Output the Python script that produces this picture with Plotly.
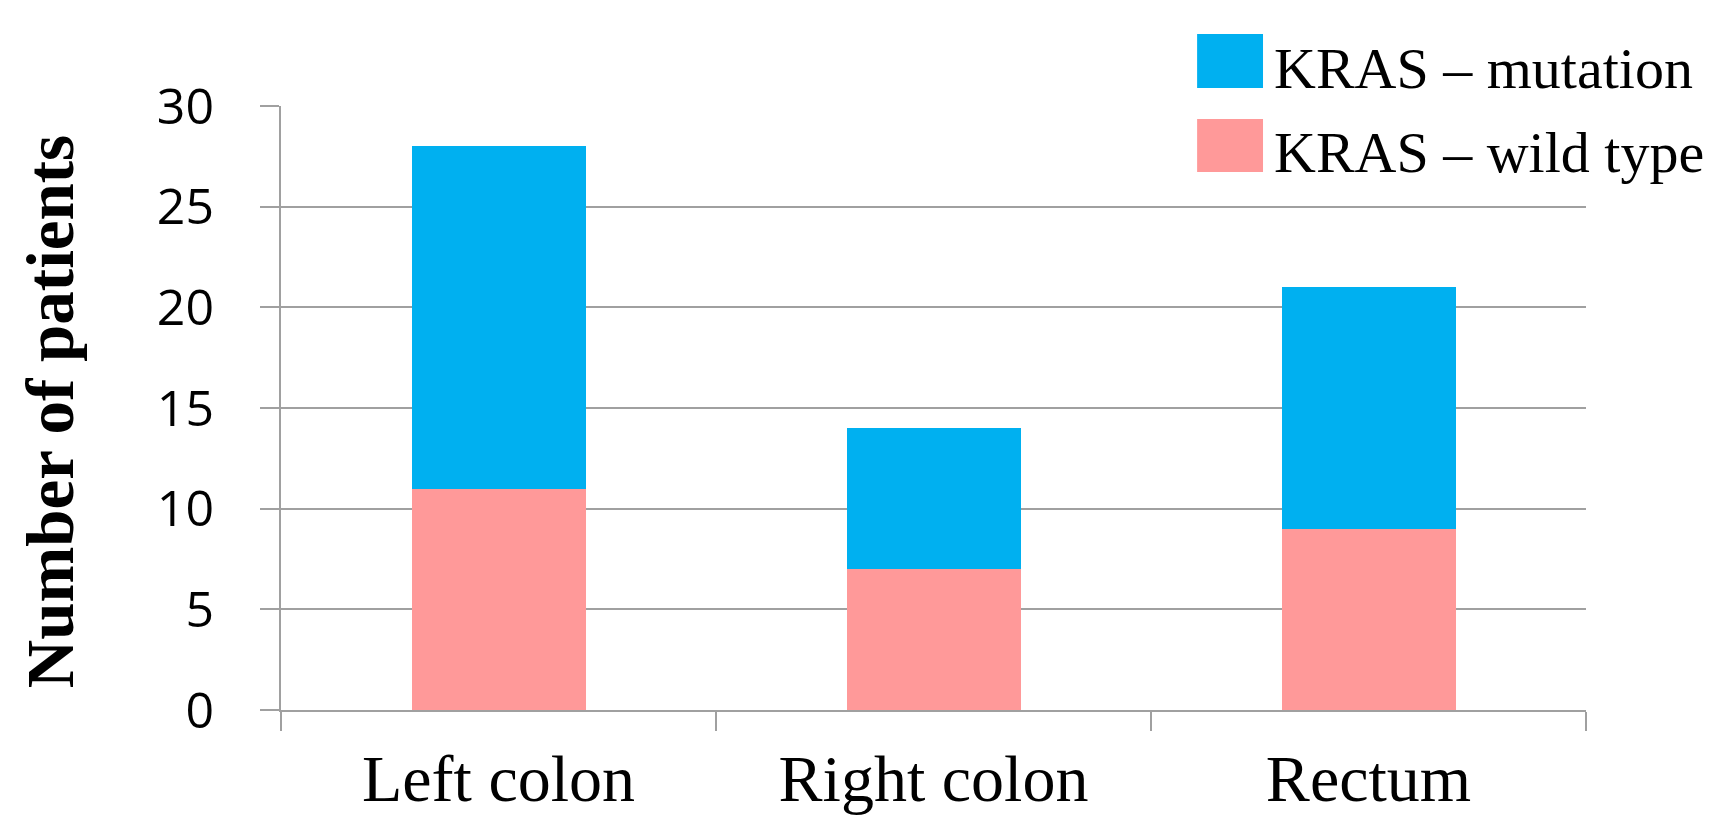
import plotly.graph_objects as go

# Patient counts by tumour site, split by KRAS status
sites = ["Left colon", "Right colon", "Rectum"]
kras_wild_type = [11, 7, 9]
kras_mutation = [17, 7, 12]

y_ticks = [0, 5, 10, 15, 20, 25, 30]

series_names = ["KRAS \u2013 mutation", "KRAS \u2013 wild type"]
color_mutation = "#00B0F0"
color_wild = "#FF9999"
grid_color = "#A0A0A0"

fig = go.Figure()
fig.add_trace(go.Bar(x=sites, y=kras_wild_type, name=series_names[1],
                     marker=dict(color=color_wild, line=dict(width=0)),
                     width=0.4, showlegend=False))
fig.add_trace(go.Bar(x=sites, y=kras_mutation, name=series_names[0],
                     marker=dict(color=color_mutation, line=dict(width=0)),
                     width=0.4, showlegend=False))

W, H = 1719, 818
ml, mr, mt, mb = 281, 133, 106, 108

fig.update_layout(
    width=W, height=H,
    barmode="stack",
    plot_bgcolor="white", paper_bgcolor="white",
    margin=dict(l=ml, r=mr, t=mt, b=mb, autoexpand=False),
    xaxis=dict(
        type="category",
        showline=True, linecolor=grid_color, linewidth=2,
        ticks="outside", tickson="boundaries", ticklen=19, tickwidth=1.5,
        tickcolor=grid_color,
        tickfont=dict(family="Liberation Serif", size=66, color="black"),
        ticklabelstandoff=10,
        showgrid=False,
    ),
    yaxis=dict(
        range=[0, 30], tickvals=y_ticks,
        showline=True, linecolor=grid_color, linewidth=2,
        ticks="outside", ticklen=19, tickwidth=1.5, tickcolor=grid_color,
        showgrid=True, gridcolor=grid_color, gridwidth=2,
        zeroline=False,
        tickfont=dict(family="Open Sans", size=50, color="black"),
        ticklabelstandoff=36,
    ),
    bargap=0.6,
)

# Y-axis title
fig.add_annotation(
    text="<b>Number of patients</b>", textangle=-90,
    xref="paper", yref="paper", x=-0.177, y=0.493,
    xanchor="center", yanchor="middle", showarrow=False,
    font=dict(family="Liberation Serif", size=67, color="black"),
)

# Legend drawn with shapes and text, on a white panel over the top gridline
fig.add_shape(type="rect", xref="paper", yref="paper",
              x0=0.7287, x1=1.0, y0=0.97, y1=1.17,
              fillcolor="white", line=dict(width=0), layer="above")
legend_rows = [
    (series_names[0], color_mutation, 1.0298, 1.119),
    (series_names[1], color_wild, 0.8907, 0.9785),
]
for label, color, y0, y1 in legend_rows:
    fig.add_shape(type="rect", xref="paper", yref="paper",
                  x0=0.702, x1=0.7525, y0=y0, y1=y1,
                  fillcolor=color, line=dict(width=0), layer="above")
    fig.add_annotation(
        text=label, xref="paper", yref="paper",
        x=0.7594, y=(y0 + y1) / 2 - 0.012, xanchor="left", yanchor="middle",
        showarrow=False,
        font=dict(family="Liberation Serif", size=58, color="black"),
    )

fig.write_html("out.html")
